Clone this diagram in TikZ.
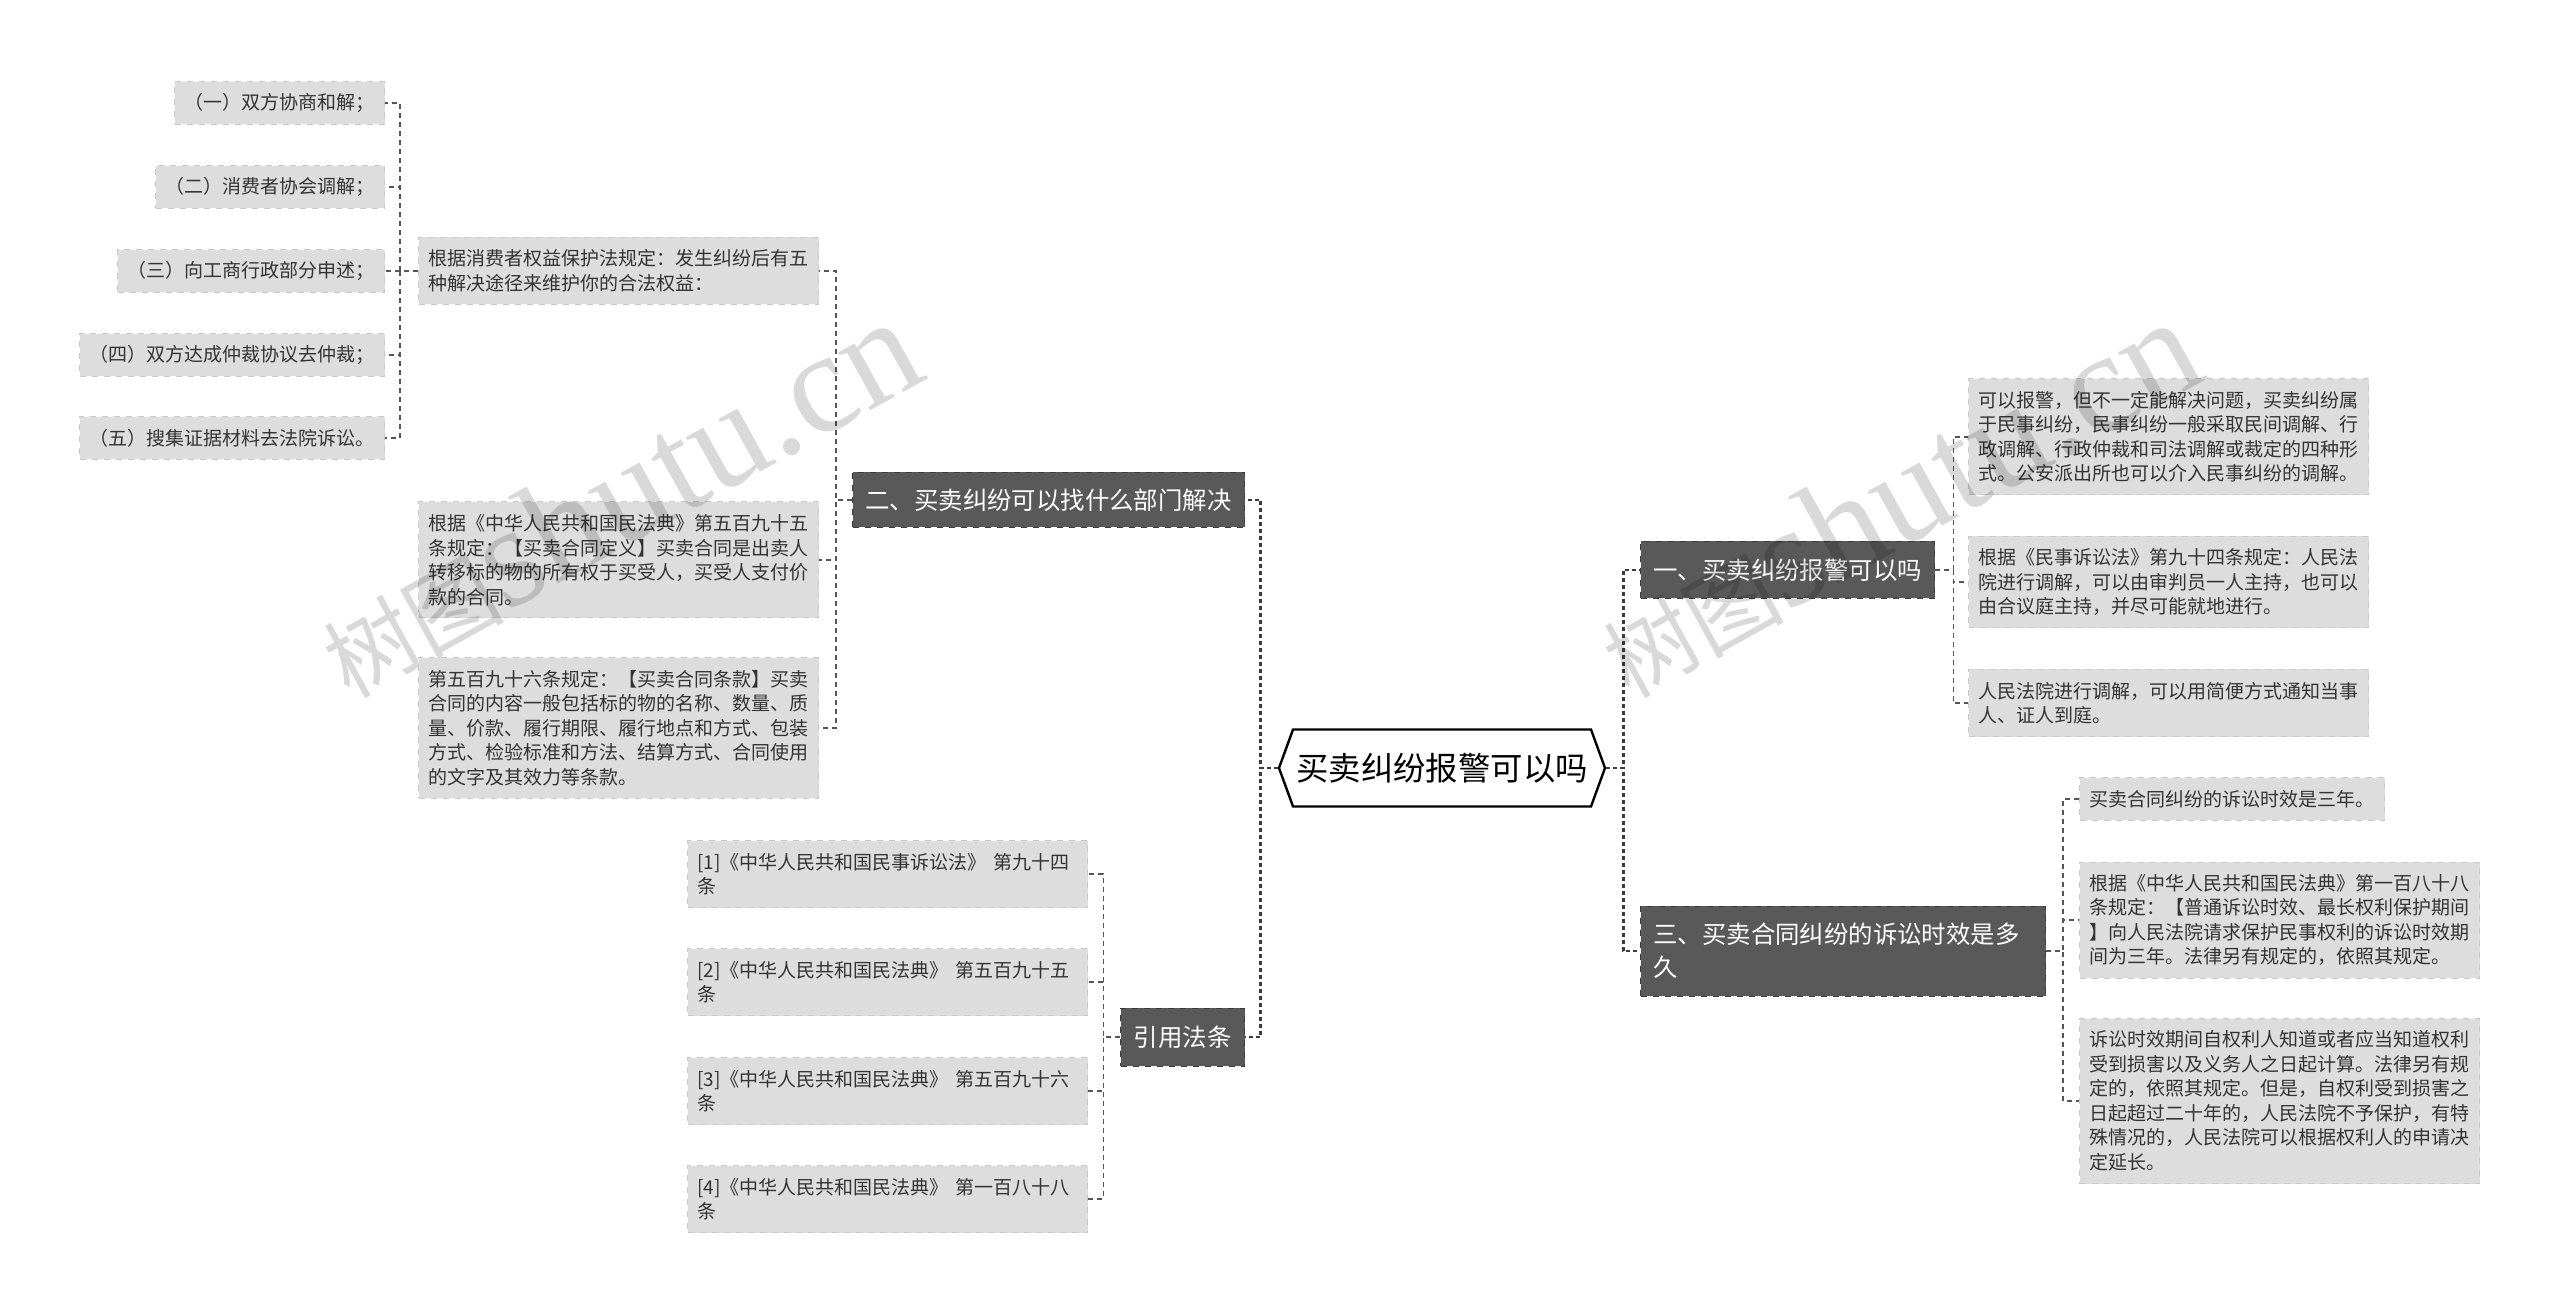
\documentclass[tikz,border=0pt]{standalone}
\usepackage{fontspec}
\setmainfont{Noto Sans CJK SC}
\newfontfamily\markfont{Liberation Serif}
\usepackage{tikz}
\usetikzlibrary{shapes.symbols}
\definecolor{leafgray}{HTML}{DDDDDD}
\definecolor{leafline}{HTML}{C9C9C9}
\definecolor{topicgray}{HTML}{595959}
\definecolor{topicline}{HTML}{3A3A3A}
\definecolor{linkgray}{HTML}{555555}
\definecolor{trunkgray}{HTML}{3C3C3C}
\definecolor{textgray}{HTML}{333333}
\tikzset{leaf/.style = {fill = leafgray, draw = leafline, dashed, line width = 0.5pt, text = textgray, font = \fontsize{9.5}{12.25}\selectfont, inner xsep = 5pt, inner ysep = 0pt, align = left}}
\tikzset{fixw/.style = {text width = 190pt}}
\tikzset{nlines/.style = {minimum height = #1*12.25pt + 9pt}}
\tikzset{topic/.style = {fill = topicgray, draw = topicline, dashed, line width = 0.5pt, text = white, font = \fontsize{12.2}{16.5}\selectfont, inner xsep = 6.5pt, inner ysep = 0pt, align = left}}
\tikzset{hub/.style = {shape = signal, signal to = west and east, signal pointer angle = 140, draw, fill = white, line width = 1.2pt, font = \fontsize{16.2}{20}\selectfont, minimum width = 163pt, minimum height = 38.5pt, inner sep = 0pt}}
\tikzset{edge/.style = {draw = linkgray, line width = 0.7pt, dash pattern = on 2.5pt off 2pt}}
\tikzset{trunk/.style = {draw = trunkgray, line width = 1.3pt, dash pattern = on 2pt off 1.5pt}}
\tikzset{mark/.style = {}}
\tikzset{stamp/.style = {rotate = 29, anchor = base west, inner sep = 0pt, text = black, opacity = 0.15, font = \fontsize{45}{45}\selectfont}}

\begin{document}
\begin{tikzpicture}[x = 0.5pt, y = -0.5pt]
	\useasboundingbox (0, 0) rectangle (2560, 1315);

	\node[hub] (root) at (1442, 768) {买卖纠纷报警可以吗};

	\node[topic, anchor = east, minimum height = 27.5pt] (sec2) at (1245, 500) {二、买卖纠纷可以找什么部门解决};
	\node[topic, anchor = east, minimum height = 29pt] (laws) at (1245, 1037) {引用法条};
	\node[topic, anchor = west, minimum height = 28.5pt] (sec1) at (1640, 570) {一、买卖纠纷报警可以吗};
	\node[topic, anchor = west, text width = 189.5pt, minimum height = 45pt] (sec3) at (1640, 951) {三、买卖合同纠纷的诉讼时效是多\\久};

	\node[leaf, fixw, nlines = 2, anchor = east] (a1) at (819, 271) {根据消费者权益保护法规定：发生纠纷后有五\\种解决途径来维护你的合法权益：};
	\node[leaf, fixw, nlines = 4, anchor = east] (a2) at (819, 560) {根据《中华人民共和国民法典》第五百九十五\\条规定：【买卖合同定义】买卖合同是出卖人\\转移标的物的所有权于买受人，买受人支付价\\款的合同。};
	\node[leaf, fixw, nlines = 5, anchor = east] (a3) at (819, 728) {第五百九十六条规定：【买卖合同条款】买卖\\合同的内容一般包括标的物的名称、数量、质\\量、价款、履行期限、履行地点和方式、包装\\方式、检验标准和方法、结算方式、合同使用\\的文字及其效力等条款。};

	\node[leaf, nlines = 1, anchor = east] (b1) at (385, 103) {（一）双方协商和解；};
	\node[leaf, nlines = 1, anchor = east] (b2) at (385, 187) {（二）消费者协会调解；};
	\node[leaf, nlines = 1, anchor = east] (b3) at (385, 271) {（三）向工商行政部分申述；};
	\node[leaf, nlines = 1, anchor = east] (b4) at (385, 355) {（四）双方达成仲裁协议去仲裁；};
	\node[leaf, nlines = 1, anchor = east] (b5) at (385, 438) {（五）搜集证据材料去法院诉讼。};

	\node[leaf, fixw, nlines = 2, anchor = east] (r1) at (1088, 874) {[1]《中华人民共和国民事诉讼法》 第九十四\\条};
	\node[leaf, fixw, nlines = 2, anchor = east] (r2) at (1088, 982) {[2]《中华人民共和国民法典》 第五百九十五\\条};
	\node[leaf, fixw, nlines = 2, anchor = east] (r3) at (1088, 1091) {[3]《中华人民共和国民法典》 第五百九十六\\条};
	\node[leaf, fixw, nlines = 2, anchor = east] (r4) at (1088, 1199) {[4]《中华人民共和国民法典》 第一百八十八\\条};

	\node[leaf, fixw, nlines = 4, anchor = west] (c1) at (1968, 437) {可以报警，但不一定能解决问题，买卖纠纷属\\于民事纠纷，民事纠纷一般采取民间调解、行\\政调解、行政仲裁和司法调解或裁定的四种形\\式。公安派出所也可以介入民事纠纷的调解。};
	\node[leaf, fixw, nlines = 3, anchor = west] (c2) at (1968, 582) {根据《民事诉讼法》第九十四条规定：人民法\\院进行调解，可以由审判员一人主持，也可以\\由合议庭主持，并尽可能就地进行。};
	\node[leaf, fixw, nlines = 2, anchor = west] (c3) at (1968, 703) {人民法院进行调解，可以用简便方式通知当事\\人、证人到庭。};

	\node[leaf, nlines = 1, anchor = west] (d1) at (2079, 799) {买卖合同纠纷的诉讼时效是三年。};
	\node[leaf, fixw, nlines = 4, anchor = west] (d2) at (2079, 920) {根据《中华人民共和国民法典》第一百八十八\\条规定：【普通诉讼时效、最长权利保护期间\\】向人民法院请求保护民事权利的诉讼时效期\\间为三年。法律另有规定的，依照其规定。};
	\node[leaf, fixw, nlines = 6, anchor = west] (d3) at (2079, 1101) {诉讼时效期间自权利人知道或者应当知道权利\\受到损害以及义务人之日起计算。法律另有规\\定的，依照其规定。但是，自权利受到损害之\\日起超过二十年的，人民法院不予保护，有特\\殊情况的，人民法院可以根据权利人的申请决\\定延长。};

	\draw[trunk] (root.west) -- ++(-17, 0) |- (sec2.east);
	\draw[trunk] (root.west) -- ++(-17, 0) |- (laws.east);
	\draw[trunk] (root.east) -- ++(17, 0) |- (sec1.west);
	\draw[trunk] (root.east) -- ++(17, 0) |- (sec3.west);

	\draw[edge] (sec2.west) -- ++(-16, 0) |- (a1.east);
	\draw[edge] (sec2.west) -- ++(-16, 0) |- (a2.east);
	\draw[edge] (sec2.west) -- ++(-16, 0) |- (a3.east);

	\draw[edge] (a1.west) -- ++(-18, 0) |- (b1.east);
	\draw[edge] (a1.west) -- ++(-18, 0) |- (b2.east);
	\draw[edge] (a1.west) -- ++(-18, 0) |- (b3.east);
	\draw[edge] (a1.west) -- ++(-18, 0) |- (b4.east);
	\draw[edge] (a1.west) -- ++(-18, 0) |- (b5.east);

	\draw[edge] (laws.west) -- ++(-17, 0) |- (r1.east);
	\draw[edge] (laws.west) -- ++(-17, 0) |- (r2.east);
	\draw[edge] (laws.west) -- ++(-17, 0) |- (r3.east);
	\draw[edge] (laws.west) -- ++(-17, 0) |- (r4.east);

	\draw[edge] (sec1.east) -- ++(18, 0) |- (c1.west);
	\draw[edge] (sec1.east) -- ++(18, 0) |- (c2.west);
	\draw[edge] (sec1.east) -- ++(18, 0) |- (c3.west);

	\draw[edge] (sec3.east) -- ++(17, 0) |- (d1.west);
	\draw[edge] (sec3.east) -- ++(17, 0) |- (d2.west);
	\draw[edge] (sec3.east) -- ++(17, 0) |- (d3.west);

	\node[stamp] (mark1) at (349, 700) {树图{\markfont\fontsize{72}{72}\selectfont shutu.cn}};
	\node[stamp] (mark2) at (1629, 700) {树图{\markfont\fontsize{72}{72}\selectfont shutu.cn}};
\end{tikzpicture}
\end{document}
